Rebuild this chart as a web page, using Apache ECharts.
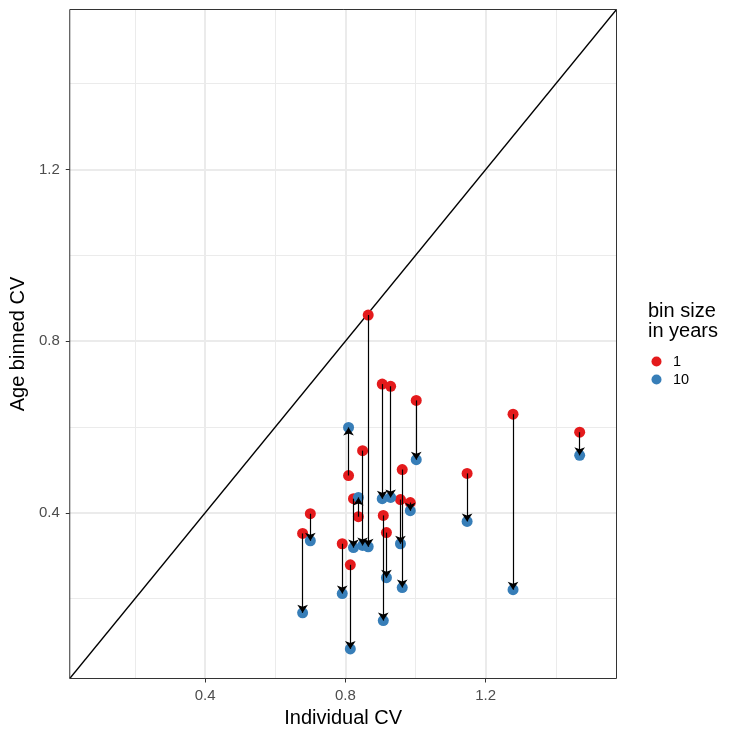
<!DOCTYPE html>
<html>
<head>
<meta charset="utf-8">
<script src="https://cdn.jsdelivr.net/npm/echarts@6/dist/echarts.min.js"></script>
<style>html,body{margin:0;padding:0;background:#fff}#c{width:738px;height:738px}</style>
</head>
<body>
<div id="c"></div>
<script>
// Individual CV (x) for each group
const individualCV = [0.678, 0.700, 0.791, 0.809, 0.814, 0.823, 0.837, 0.849, 0.865, 0.905,
                      0.929, 0.908, 0.917, 0.957, 0.962, 0.985, 1.002, 1.147, 1.278, 1.468];
// Age binned CV with 1-year bins
const binnedCV1 = [0.352, 0.398, 0.328, 0.487, 0.279, 0.433, 0.391, 0.545, 0.861, 0.700,
                   0.695, 0.394, 0.354, 0.431, 0.501, 0.424, 0.662, 0.492, 0.630, 0.588];
// Age binned CV with 10-year bins
const binnedCV10 = [0.167, 0.335, 0.212, 0.599, 0.083, 0.319, 0.436, 0.324, 0.321, 0.433,
                    0.436, 0.149, 0.249, 0.328, 0.226, 0.405, 0.524, 0.380, 0.221, 0.534];
const seriesNames = ['1', '10'];
const tickLabels = [0.4, 0.8, 1.2];
const majorGrid = [0.4, 0.8, 1.2];
const minorGrid = [0.2, 0.6, 1.0, 1.4];
const axisMin = 0.014, axisMax = 1.573;

const chart = echarts.init(document.getElementById('c'), null, {renderer: 'canvas'});
const FONT = 'Liberation Sans';

const gridLines = [];
minorGrid.forEach(v => {
  gridLines.push({xAxis: v, lineStyle: {width: 1, color: '#ebebeb', type: 'solid'}});
  gridLines.push({yAxis: v, lineStyle: {width: 1, color: '#ebebeb', type: 'solid'}});
});
majorGrid.forEach(v => {
  gridLines.push({xAxis: v, lineStyle: {width: 2, color: '#ebebeb', type: 'solid'}});
  gridLines.push({yAxis: v, lineStyle: {width: 2, color: '#ebebeb', type: 'solid'}});
});

const axisCommon = {
  type: 'value', min: axisMin, max: axisMax,
  splitLine: {show: false},
  axisLine: {show: false},
  axisTick: {show: true, length: 4, customValues: tickLabels, lineStyle: {color: '#333', width: 1}},
  axisLabel: {customValues: tickLabels, color: '#4d4d4d', fontSize: 15, fontFamily: FONT, margin: 10,
              formatter: v => (+v).toFixed(1)},
  nameLocation: 'middle',
  nameTextStyle: {color: '#000', fontSize: 20, fontFamily: FONT}
};

chart.setOption({
  animation: false,
  backgroundColor: '#fff',
  grid: {left: 66.5, right: 121.5, top: 9.5, bottom: 59.5, show: true, borderColor: '#333', borderWidth: 1, backgroundColor: 'transparent', z: 10},
  xAxis: Object.assign({}, axisCommon, {name: 'Individual CV', nameGap: 29}),
  yAxis: Object.assign({}, axisCommon, {name: 'Age binned CV', nameGap: 36}),
  legend: {
    data: seriesNames, orient: 'vertical', left: 646.5, top: 349,
    icon: 'circle', itemWidth: 23, itemHeight: 10, itemGap: 3,
    textStyle: {fontSize: 14.5, fontFamily: FONT, color: '#000'}
  },
  graphic: [
    {type: 'text', left: 648, top: 301, style: {text: 'bin size', fontSize: 20, fontFamily: FONT, fill: '#000'}},
    {type: 'text', left: 648, top: 321, style: {text: 'in years', fontSize: 20, fontFamily: FONT, fill: '#000'}}
  ],
  series: [
    {
      type: 'line', name: 'grid', data: [], z: 0, silent: true,
      markLine: {silent: true, z: 0, symbol: ['none', 'none'], label: {show: false}, animation: false, data: gridLines}
    },
    {
      type: 'line', name: 'diag', z: 2, silent: true, symbol: 'none',
      data: [[axisMin, axisMin], [axisMax, axisMax]],
      lineStyle: {color: '#000', width: 1.3}
    },
    {
      type: 'scatter', name: seriesNames[0], z: 3, symbolSize: 11,
      itemStyle: {color: '#E41A1C', opacity: 1},
      data: individualCV.map((x, i) => [x, binnedCV1[i]])
    },
    {
      type: 'scatter', name: seriesNames[1], z: 3, symbolSize: 11,
      itemStyle: {color: '#377EB8', opacity: 1},
      data: individualCV.map((x, i) => [x, binnedCV10[i]])
    },
    {
      type: 'lines', coordinateSystem: 'cartesian2d', z: 4, silent: true,
      symbol: ['none', 'arrow'], symbolSize: [7, 8],
      lineStyle: {color: '#000', width: 1.2, opacity: 1},
      data: individualCV.map((x, i) => ({coords: [[x, binnedCV1[i]], [x, binnedCV10[i]]]}))
    }
  ]
});
</script>
</body>
</html>
